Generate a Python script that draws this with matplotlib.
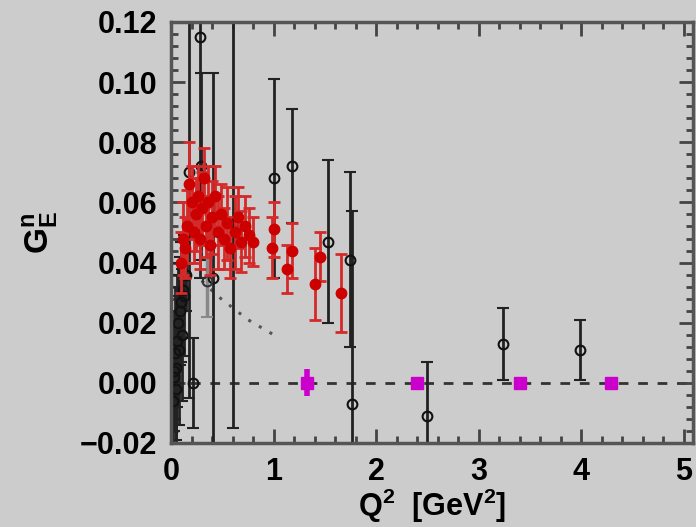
import numpy as np
import matplotlib
matplotlib.use("Agg")
import matplotlib.pyplot as plt

# world data: neutron electric form factor
# black open circles (older measurements)
old_q2 = [0.02, 0.025, 0.03, 0.04, 0.045, 0.05, 0.06, 0.07, 0.08, 0.09, 0.10, 0.11, 0.12, 0.13, 0.15,
          0.18, 0.21, 0.28, 0.29, 0.41, 0.60,
          1.00, 1.18, 1.53, 1.75, 1.76, 2.50, 3.24, 3.99]
old_ge = [-0.006, 0.004, 0.002, 0.010, -0.002, 0.005, 0.014, 0.020, 0.011, 0.024, 0.027, 0.016, 0.031, 0.029, 0.036,
          0.070, 0.000, 0.115, 0.072, 0.035, 0.053,
          0.068, 0.072, 0.047, 0.041, -0.007, -0.011, 0.013, 0.011]
old_err = [0.016, 0.020, 0.018, 0.022, 0.020, 0.024, 0.022, 0.020, 0.025, 0.018, 0.020, 0.022, 0.016, 0.020, 0.012,
           0.075, 0.015, 0.080, 0.031, 0.068, 0.068,
           0.033, 0.019, 0.027, 0.029, 0.064, 0.018, 0.012, 0.010]

# gray point with small error
mid_q2 = [0.35]
mid_ge = [0.034]
mid_err = [0.012]

# red filled circles (polarization measurements)
pol_q2 = [0.10, 0.12, 0.14, 0.16, 0.18, 0.20, 0.22, 0.24, 0.26, 0.28, 0.30, 0.32,
          0.34, 0.36, 0.38, 0.40, 0.43, 0.46, 0.49, 0.52, 0.55, 0.58, 0.62, 0.65,
          0.68, 0.72, 0.76, 0.80, 0.98, 1.00, 1.13, 1.18, 1.40, 1.45, 1.66]
pol_ge = [0.040, 0.048, 0.045, 0.052, 0.066, 0.060, 0.050, 0.056, 0.062, 0.048, 0.058, 0.068,
          0.052, 0.060, 0.046, 0.055, 0.062, 0.050, 0.056, 0.048, 0.053, 0.045, 0.050, 0.055,
          0.047, 0.052, 0.049, 0.047, 0.045, 0.051, 0.038, 0.044, 0.033, 0.042, 0.030]
pol_err = [0.010, 0.012, 0.010, 0.012, 0.014, 0.012, 0.010, 0.012, 0.010, 0.010, 0.012, 0.010,
           0.010, 0.012, 0.010, 0.012, 0.010, 0.012, 0.010, 0.010, 0.012, 0.010, 0.012, 0.010,
           0.010, 0.010, 0.009, 0.008, 0.010, 0.009, 0.008, 0.009, 0.012, 0.008, 0.013]

# projected points
proj_q2 = [1.33, 2.40, 3.40, 4.29]
proj_ge = [0.0, 0.0, 0.0, 0.0]
proj_err = [0.0045, 0.0015, 0.0005, 0.001]

# model curve (dotted)
curve_q2 = [0.30, 0.45, 0.60, 0.75, 0.90, 1.00]
curve_ge = [0.034, 0.029, 0.025, 0.021, 0.018, 0.016]

bg = "#cccccc"
plt.rcParams["font.family"] = ["Liberation Sans", "DejaVu Sans"]
plt.rcParams["font.weight"] = "bold"
plt.rcParams["axes.labelweight"] = "bold"
plt.rcParams["mathtext.fontset"] = "custom"
plt.rcParams["mathtext.rm"] = "Liberation Sans:bold"
plt.rcParams["mathtext.it"] = "Liberation Sans:bold"
plt.rcParams["mathtext.bf"] = "Liberation Sans:bold"
plt.rcParams["mathtext.default"] = "bf"

fig = plt.figure(figsize=(6.96, 5.27), dpi=100, facecolor=bg)
ax = fig.add_axes([0.2457, 0.1594, 0.750, 0.7989], facecolor=bg)

ax.axhline(0, color="#333333", lw=2, ls=(0, (3.5, 3.5)), zorder=1)
ax.plot(curve_q2, curve_ge, ls=(0, (1, 3)), color="#555555", lw=2.2, zorder=1)

ax.errorbar(old_q2, old_ge, yerr=old_err, fmt="o", ms=7, mfc="none", mec="#111111", mew=1.5,
            ecolor="#222222", elinewidth=2, capsize=4, capthick=2, zorder=2)
ax.errorbar(mid_q2, mid_ge, yerr=mid_err, fmt="o", ms=7, mfc="none", mec="#333333", mew=1.5,
            ecolor="#888888", elinewidth=2.5, capsize=4, capthick=2, zorder=2)
ax.errorbar(pol_q2, pol_ge, yerr=pol_err, fmt="o", ms=7.5, color="#cc0000",
            ecolor="#d42a2a", elinewidth=2, capsize=4, capthick=2, zorder=3)
ax.errorbar(proj_q2, proj_ge, yerr=proj_err, fmt="s", ms=9, color="#cc00cc",
            ecolor="#cc00cc", elinewidth=4, capsize=0, zorder=4)

ax.set_xlim(0, 5.09)
ax.set_ylim(-0.02, 0.12)
ax.set_xticks([0, 1, 2, 3, 4, 5])
ax.set_xticks(np.arange(0, 5.1, 0.2), minor=True)
ax.set_yticks([-0.02, 0.0, 0.02, 0.04, 0.06, 0.08, 0.10, 0.12])
ax.set_yticks(np.arange(-0.02, 0.1201, 0.004), minor=True)
ax.set_yticklabels(["\u22120.02", "0.00", "0.02", "0.04", "0.06", "0.08", "0.10", "0.12"])

ax.tick_params(which="both", direction="in", top=True, right=True, color="#444444",
               labelsize=22, pad=10)
ax.tick_params(which="major", length=10, width=2)
ax.tick_params(which="minor", length=5, width=2)
for s in ax.spines.values():
    s.set_color("#555555")
    s.set_linewidth(2.5)

ax.set_xlabel("Q$^2$  [GeV$^2$]", fontsize=22, labelpad=0)
ax.set_ylabel("$G_E^n$", fontsize=24, labelpad=14)

plt.savefig("out.png", dpi=100, facecolor=bg)
